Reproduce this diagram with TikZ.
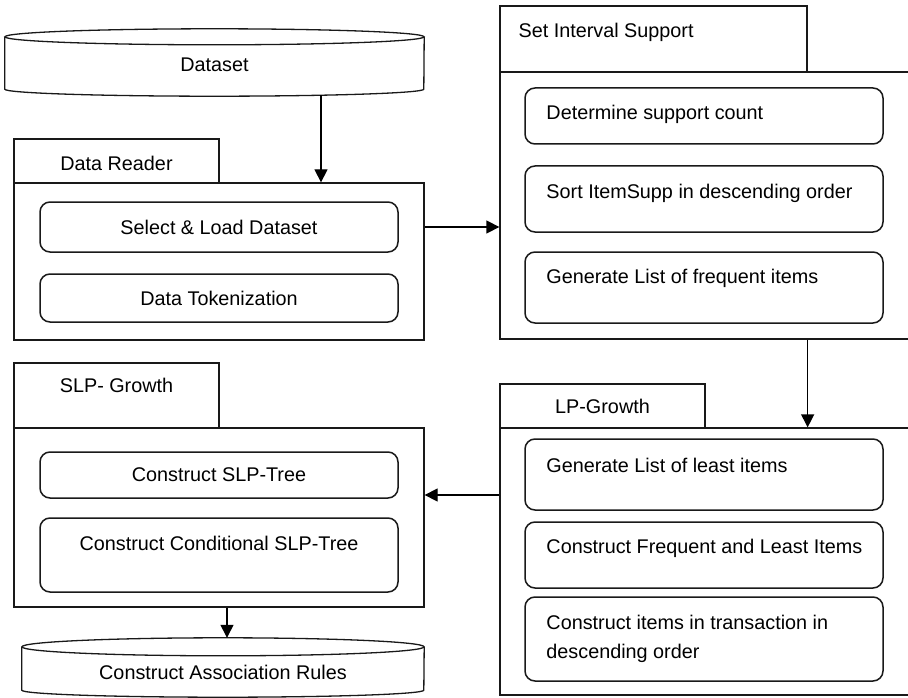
\documentclass[tikz,border=0pt]{standalone}
\usepackage{fontspec}
\setmainfont{Liberation Sans}
\usetikzlibrary{arrows.meta,fit,positioning}

\begin{document}
\begin{tikzpicture}[x=1pt,y=1pt,
    font=\fontsize{19.8}{29}\selectfont,
    outline/.style={draw=black!90, line width=1.3pt},
    panel/.style={outline, inner sep=0pt},
    stepbox/.style={outline, line width=1.5pt, rounded corners=10pt, inner sep=0pt},
    steptext/.style={anchor=west, inner sep=0pt, align=left},
    flow/.style={line width=1.3pt, -{Triangle[length=13pt,width=13pt]}}]
  \useasboundingbox (0,0) rectangle (908,-698);

  % Dataset (cylinder)
  \node[inner sep=0pt, fit={(5,-37) (424,-89)}, label={[yshift=-2pt]center:Dataset}] (dataset) {};
  \draw[outline] (dataset.north) ellipse [x radius=209.5, y radius=8];
  \draw[outline] (dataset.north west) -- (dataset.south west)
    arc[start angle=180, end angle=360, x radius=209.5, y radius=7] -- (dataset.north east);

  % Data Reader
  \node[panel, fit={(14,-139) (219,-183)}, label={[yshift=-2pt]center:Data Reader}] (readertab) {};
  \node[panel, fit={(14,-183) (424,-340)}] (readerbox) {};
  \node[stepbox, fit={(40,-202) (398,-252)}, label=center:Select \& Load Dataset] (selectbox) {};
  \node[stepbox, fit={(40,-274) (398,-322)}, label=center:Data Tokenization] (tokenbox) {};

  % Set Interval Support
  \node[panel, fit={(500,-6) (807,-72)}] (supptab) {};
  \node[steptext] at ([xshift=19pt,yshift=-27pt]supptab.north west) (supptext) {Set Interval Support};
  \node[panel, fit={(500,-72) (915,-339)}] (suppbox) {};
  \node[stepbox, fit={(525,-88) (883,-144)}] (countbox) {};
  \node[stepbox, fit={(525,-166) (883,-232)}] (sortbox) {};
  \node[stepbox, fit={(525,-252) (883,-323)}] (freqbox) {};
  \node[steptext] at ([xshift=22pt,yshift=-27pt]countbox.north west) (counttext) {Determine support count};
  \node[steptext] at ([xshift=22pt,yshift=-28pt]sortbox.north west) (sorttext) {Sort ItemSupp in descending order};
  \node[steptext] at ([xshift=22pt,yshift=-27pt]freqbox.north west) (freqtext) {Generate List of frequent items};

  % LP-Growth
  \node[panel, fit={(500,-384) (705,-428)}, label=center:LP-Growth] (lptab) {};
  \node[panel, fit={(500,-428) (915,-695)}] (lpbox) {};
  \node[stepbox, fit={(525,-439) (883,-510)}] (leastbox) {};
  \node[stepbox, fit={(525,-522) (883,-588)}] (flbox) {};
  \node[stepbox, fit={(525,-597) (883,-681)}] (orderbox) {};
  \node[steptext] at ([xshift=22pt,yshift=-27pt]leastbox.north west) (leasttext) {Generate List of least items};
  \node[steptext] at ([xshift=22pt,yshift=-27pt]flbox.north west) (fltext) {Construct Frequent and Least Items};
  \node[steptext] at ([xshift=22pt,yshift=-43pt]orderbox.north west) (ordertext) {Construct items in transaction in\\descending order};

  % SLP- Growth
  \node[panel, fit={(14,-363) (219,-428)}] (slptab) {};
  \node[inner sep=0pt] at ([yshift=-23pt]slptab.north) (slptext) {SLP- Growth};
  \node[panel, fit={(14,-428) (424,-607)}] (slpbox) {};
  \node[stepbox, fit={(40,-452) (398,-498)}, label=center:Construct SLP-Tree] (treebox) {};
  \node[stepbox, fit={(40,-518) (398,-592)}] (condbox) {};
  \node[inner sep=0pt] at ([yshift=-26pt]condbox.north) (condtext) {Construct Conditional SLP-Tree};

  % Construct Association Rules (cylinder)
  \node[inner sep=0pt, fit={(22,-647) (424,-690)}, label={[yshift=-4pt]center:Construct Association Rules}] (rules) {};
  \draw[outline] (rules.north) ellipse [x radius=201, y radius=9];
  \draw[outline] (rules.north west) -- (rules.south west)
    arc[start angle=180, end angle=360, x radius=201, y radius=7] -- (rules.north east);

  % connectors
  \coordinate (dsout) at ([xshift=106.5pt,yshift=-6pt]dataset.south);
  \coordinate (rulesin) at ([xshift=4pt,yshift=9pt]rules.north);
  \draw[flow] (dsout) -- (dsout |- readerbox.north);
  \draw[flow] (selectbox.east -| readerbox.east) -- (selectbox.east -| suppbox.west);
  \draw[flow] (supptab.east |- suppbox.south) -- (supptab.east |- lpbox.north);
  \draw[flow] ([yshift=66.5pt]lpbox.west) -- ([yshift=66.5pt]lpbox.west -| slpbox.east);
  \draw[flow] (slpbox.south -| rulesin) -- (rulesin);
\end{tikzpicture}
\end{document}
